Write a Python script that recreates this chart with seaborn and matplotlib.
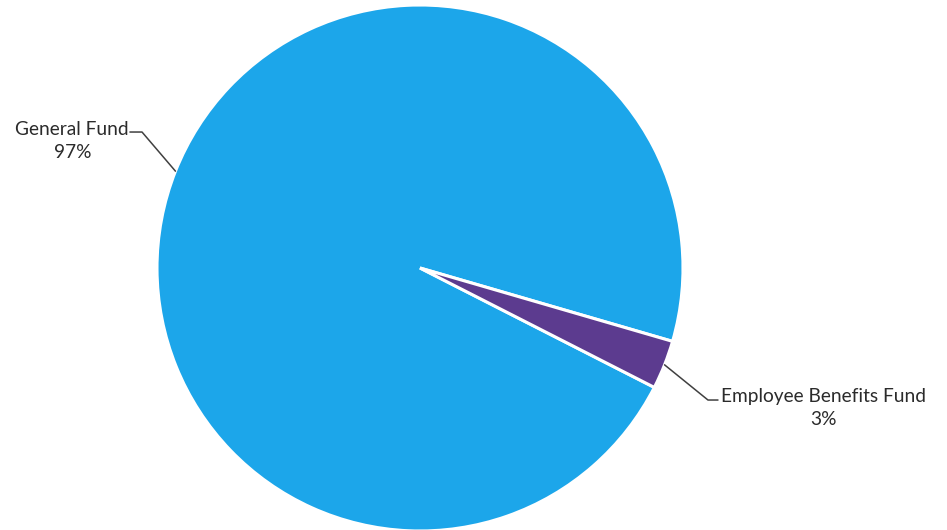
import numpy as np
import matplotlib
matplotlib.use("Agg")
import matplotlib.pyplot as plt
import seaborn as sns

sns.set_theme(style="white")
plt.rcParams['font.family'] = ['Lato', 'DejaVu Sans']

categories = ["General Fund", "Employee Benefits Fund"]
values = [97, 3]
pct_labels = ["97%", "3%"]
colors = ["#1CA6EA", "#5C3B8F"]

W, H = 947, 530
fig = plt.figure(figsize=(W / 100, H / 100), dpi=100)
ax = fig.add_axes([0, 0, 1, 1])

cx, cy, R = 420, 268, 263  # pixels
wedges, _ = ax.pie(values, colors=colors, startangle=-16.2, counterclock=True,
                   wedgeprops=dict(edgecolor="white", linewidth=2.2))
ax.set_xlim(-cx / R, (W - cx) / R)
ax.set_ylim(-(H - cy) / R, cy / R)
ax.set_aspect('auto')
ax.axis('off')

# label layout (elbow point, end point, text anchor) in pie-radius units
layouts = [
    dict(elbow=(-1.057, 0.517), end=(-1.103, 0.517), text=(-1.106, 0.484), ha="right"),
    dict(elbow=(1.095, -0.502), end=(1.133, -0.502), text=(1.146, -0.532), ha="left"),
]
for w, cat, pct, lay in zip(wedges, categories, pct_labels, layouts):
    mid = np.deg2rad((w.theta1 + w.theta2) / 2)
    ax_pt = (np.cos(mid), np.sin(mid))
    xs = [ax_pt[0], lay["elbow"][0], lay["end"][0]]
    ys = [ax_pt[1], lay["elbow"][1], lay["end"][1]]
    ax.plot(xs, ys, color="#404040", lw=1.1)
    ax.text(lay["text"][0], lay["text"][1], f"{cat}\n{pct}", ha=lay["ha"], va="center",
            multialignment="center", fontsize=13.8, color="#2b2b2b", linespacing=1.45)

fig.savefig("out.png", dpi=100)
